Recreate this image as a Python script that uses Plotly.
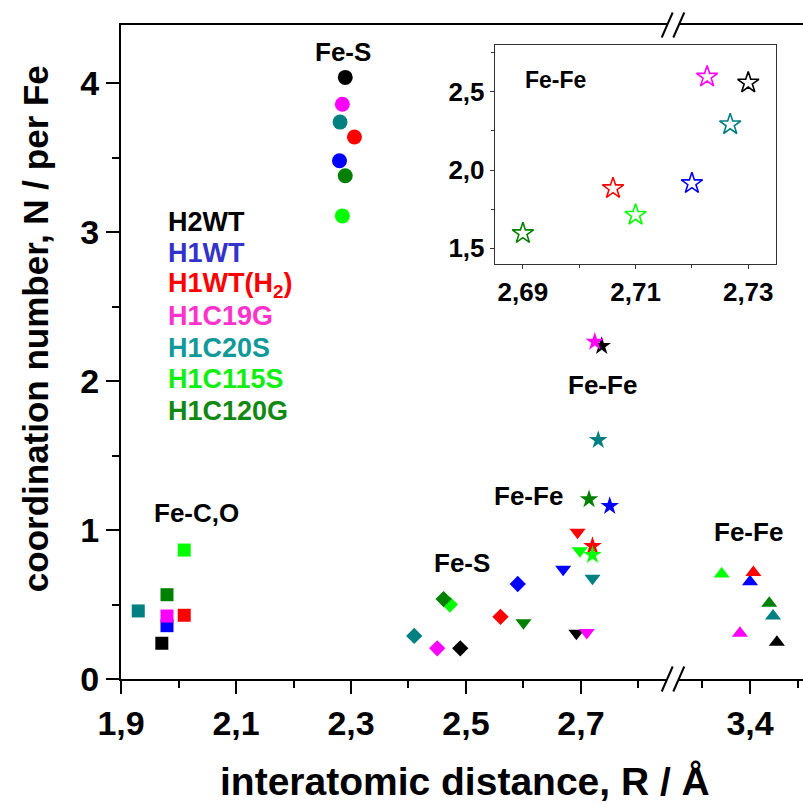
import plotly.graph_objects as go

# ---------------- data ----------------
samples = ["H2WT", "H1WT", "H1WT(H<sub>2</sub>)", "H1C19G", "H1C20S", "H1C115S", "H1C120G"]
colors = ["#000000", "#0000FF", "#FF0000", "#FF00FF", "#008080", "#00FF00", "#008000"]
legend_colors = ["#000000", "#3333CC", "#FF0000", "#FF33CC", "#119999", "#11EE11", "#118811"]

# Fe-C,O (squares)
R_FeCO = [1.971, 1.980, 2.010, 1.980, 1.930, 2.010, 1.980]
N_FeCO = [0.24, 0.358, 0.428, 0.423, 0.457, 0.866, 0.566]

# Fe-S short (circles)
R_FeS1 = [2.290, 2.280, 2.306, 2.285, 2.281, 2.285, 2.290]
N_FeS1 = [4.04, 3.48, 3.64, 3.86, 3.74, 3.11, 3.38]

# Fe-S long (diamonds)
R_FeS2 = [2.490, 2.590, 2.560, 2.450, 2.410, 2.472, 2.461]
N_FeS2 = [0.206, 0.638, 0.418, 0.206, 0.289, 0.50, 0.537]

# Fe-Fe (down triangles)
R_FeFe1 = [2.692, 2.669, 2.694, 2.710, 2.720, 2.698, 2.600]
N_FeFe1 = [0.307, 0.737, 0.985, 0.313, 0.676, 0.862, 0.378]

# Fe-Fe (filled stars)
R_FeFe2 = [2.736, 2.750, 2.720, 2.724, 2.730, 2.720, 2.714]
N_FeFe2 = [2.236, 1.162, 0.893, 2.265, 1.605, 0.833, 1.207]

# Fe-Fe long (up triangles, right segment)
R_FeFe3 = [3.456, 3.400, 3.407, 3.379, 3.448, 3.341, 3.440]
N_FeFe3 = [0.246, 0.653, 0.716, 0.307, 0.423, 0.705, 0.508]

# inset Fe-Fe (open stars)
R_inset = [2.730, 2.720, 2.706, 2.7227, 2.7268, 2.710, 2.690]
N_inset = [2.557, 1.915, 1.883, 2.595, 2.291, 1.713, 1.596]

FONT = "Liberation Sans"

fig = go.Figure()

def add(x, y, symbol, size, xa="x", ya="y", open_=False):
    if open_:
        marker = dict(symbol=symbol, size=size, color=colors,
                      line=dict(color=colors, width=1.6))
    else:
        marker = dict(symbol=symbol, size=size, color=colors, line=dict(width=0))
    fig.add_trace(go.Scatter(x=x, y=y, mode="markers", marker=marker,
                             xaxis=xa, yaxis=ya, showlegend=False, hoverinfo="x+y"))

add(R_FeCO, N_FeCO, "square", 13)
add(R_FeS1, N_FeS1, "circle", 15)
add(R_FeS2, N_FeS2, "diamond", 12.5)
add(R_FeFe1, N_FeFe1, "triangle-down", 14)
add(R_FeFe2, N_FeFe2, "star", 14)
add(R_FeFe3, N_FeFe3, "triangle-up", 14, xa="x2")
add(R_inset, N_inset, "star-open", 16, xa="x3", ya="y3", open_=True)

tickfont = dict(family=FONT, size=34, color="black", weight="bold")
common = dict(showline=True, linewidth=2, linecolor="black", ticks="outside",
              ticklen=13, tickwidth=2, tickcolor="black", showgrid=False,
              zeroline=False, tickfont=tickfont)
inset_font = dict(family=FONT, size=26, color="black", weight="bold")

fig.update_layout(
    width=803, height=805,
    margin=dict(l=121, r=0, t=25, b=126),
    plot_bgcolor="white", paper_bgcolor="white",
    separators=", ",
    xaxis=dict(domain=[0, 0.8006], range=[1.9, 2.8496], tick0=1.9, dtick=0.2,
               tickformat=".1f", mirror=True, anchor="y",
               minor=dict(ticks="outside", ticklen=7, tickwidth=2, tickcolor="black",
                          tick0=1.9, dtick=0.1),
               **common),
    xaxis2=dict(domain=[0.8182, 1], range=[3.2521, 3.5104], tick0=3.4, dtick=0.2,
                tickformat=".1f", mirror=True, anchor="y",
                minor=dict(ticks="outside", ticklen=7, tickwidth=2, tickcolor="black",
                           tick0=3.3, dtick=0.1),
                **common),
    yaxis=dict(domain=[0, 1], range=[0, 4.392], tick0=0, dtick=1, anchor="x",
               minor=dict(ticks="outside", ticklen=7, tickwidth=2, tickcolor="black",
                          tick0=0, dtick=0.5),
               **common),
    xaxis3=dict(domain=[0.548, 0.961], range=[2.685, 2.735], tick0=2.69, dtick=0.02,
                tickformat=".2f", anchor="y3", showline=True, mirror=True,
                linewidth=1, linecolor="#333333", ticks="outside", ticklen=4,
                tickwidth=1, tickcolor="#333333", showgrid=False, zeroline=False,
                tickfont=inset_font,
                minor=dict(ticks="outside", ticklen=3, tickwidth=1, tickcolor="#333333",
                           tick0=2.69, dtick=0.01)),
    yaxis3=dict(domain=[0.634, 0.9694], range=[1.398, 2.798], tick0=1.5, dtick=0.5,
                tickformat=".1f", anchor="x3", showline=True, mirror=True,
                linewidth=1, linecolor="#333333", ticks="outside", ticklen=4,
                tickwidth=1, tickcolor="#333333", showgrid=False, zeroline=False,
                tickfont=inset_font,
                minor=dict(ticks="outside", ticklen=3, tickwidth=1, tickcolor="#333333",
                           tick0=1.5, dtick=0.25)),
)

ann = []
# axis titles
ann.append(dict(text="interatomic distance, R / Å", xref="paper", yref="paper",
                x=0.504, y=-0.156, showarrow=False, xanchor="center", yanchor="middle",
                font=dict(family=FONT, size=39, color="black", weight="bold")))
ann.append(dict(text="coordination number, N / per Fe", xref="paper", yref="paper",
                x=-0.126, y=0.535, showarrow=False, textangle=-90,
                xanchor="center", yanchor="middle",
                font=dict(family=FONT, size=35, color="black", weight="bold")))

# group labels
lab_font = dict(family=FONT, size=26, color="black", weight="bold")
labels = [("Fe-S", 2.286, 4.21, "x", "y"), ("Fe-C,O", 2.032, 1.115, "x", "y"),
          ("Fe-S", 2.4925, 0.779, "x", "y"), ("Fe-Fe", 2.738, 1.974, "x", "y"),
          ("Fe-Fe", 2.609, 1.229, "x", "y"), ("Fe-Fe", 3.396, 0.989, "x2", "y")]
for t, x, y, xr, yr in labels:
    ann.append(dict(text=t, x=x, y=y, xref=xr, yref=yr, showarrow=False,
                    xanchor="center", yanchor="middle", font=lab_font))
ann.append(dict(text="Fe-Fe", x=2.6958, y=2.575, xref="x3", yref="y3", showarrow=False,
                xanchor="center", yanchor="middle",
                font=dict(family=FONT, size=23, color="black", weight="bold")))

# colored legend text
for i, (s, c) in enumerate(zip(samples, legend_colors)):
    ann.append(dict(text=s, x=1.9775, y=3.07 - 0.2116 * i, xref="x", yref="y",
                    showarrow=False, xanchor="left", yanchor="middle",
                    font=dict(family=FONT, size=27, color=c, weight="bold")))
fig.update_layout(annotations=ann)

# axis break marks (//) at bottom and top
def px2paper(px, py):
    return (px - 121) / 682, (679 - py) / 654

shapes = []
for ybase in (679, 25):
    for x0 in (661.7, 673.3):
        a = px2paper(x0, ybase + 12.5)
        b = px2paper(x0 + 11, ybase - 12.5)
        shapes.append(dict(type="line", xref="paper", yref="paper",
                           x0=a[0], y0=a[1], x1=b[0], y1=b[1],
                           line=dict(color="black", width=2)))
fig.update_layout(shapes=shapes)

fig.write_html("out.html", config={"displayModeBar": False},
               post_script="document.body.style.margin='0';document.body.style.overflow='hidden';")
